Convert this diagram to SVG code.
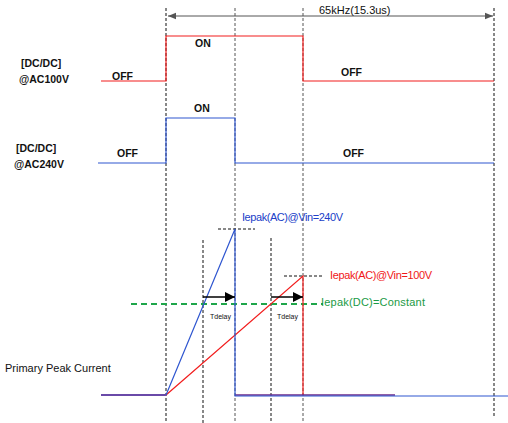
<svg xmlns="http://www.w3.org/2000/svg" width="508" height="423" viewBox="0 0 508 423">
<defs>
<style>
text{font-family:"Liberation Sans",Arial,sans-serif;font-size:11px;fill:#111}
.lbl{font-weight:bold;font-size:10.5px}
.guide{stroke:#111;stroke-width:1;stroke-dasharray:3 2;fill:none}
.guideg{stroke:#555;stroke-width:1;stroke-dasharray:3 2;fill:none}
.red{stroke:#f21d1d;stroke-width:1.2;fill:none}
.blue{stroke:#2f56d0;stroke-width:1.2;fill:none}
.tiny{font-size:7px}
</style>
<marker id="ah" viewBox="0 0 10 10" refX="10" refY="5" markerWidth="8" markerHeight="8" markerUnits="userSpaceOnUse" orient="auto-start-reverse"><path d="M0,1 L10,5 L0,9 z" fill="#555"/></marker>
<marker id="tri" viewBox="0 0 10 10" refX="10" refY="5" markerWidth="10" markerHeight="10" markerUnits="userSpaceOnUse" orient="auto"><path d="M0,0 L10,5 L0,10 z" fill="#000"/></marker>
</defs>
<g id="guides">
<line class="guide" x1="166" y1="8" x2="166" y2="423"/>
<line class="guideg" x1="235" y1="8" x2="235" y2="423"/>
<line class="guideg" x1="303" y1="8" x2="303" y2="423"/>
<line class="guide" x1="494" y1="8" x2="494" y2="418"/>
<line class="guide" x1="203" y1="240" x2="203" y2="423"/>
<line class="guide" x1="271" y1="238" x2="271" y2="423"/>
<line class="guide" x1="218" y1="229" x2="255" y2="229"/>
<line class="guide" x1="284" y1="276" x2="323" y2="276"/>
</g>
<g id="period">
<line x1="168" y1="16" x2="493" y2="16" stroke="#555" stroke-width="1" marker-start="url(#ah)" marker-end="url(#ah)"/>
<text x="319" y="14">65kHz(15.3us)</text>
</g>
<g id="dcdc100">
<polyline class="red" points="101,81 166,81 166,36 303,36 303,81 494,81"/>
<text class="lbl" x="21" y="67">[DC/DC]</text>
<text class="lbl" x="19" y="83">@AC100V</text>
<text class="lbl" x="112" y="80">OFF</text>
<text class="lbl" x="195" y="47">ON</text>
<text class="lbl" x="341" y="76">OFF</text>
</g>
<g id="dcdc240">
<polyline class="blue" points="98,163 166,163 166,118 235,118 235,163 494,163"/>
<text class="lbl" x="16" y="152">[DC/DC]</text>
<text class="lbl" x="14" y="168">@AC240V</text>
<text class="lbl" x="117" y="157">OFF</text>
<text class="lbl" x="194" y="112">ON</text>
<text class="lbl" x="343" y="157">OFF</text>
</g>
<g id="current">
<line x1="131" y1="304" x2="323" y2="304" stroke="#1fa64a" stroke-width="2" stroke-dasharray="6 4"/>
<line x1="101" y1="395" x2="166" y2="395" stroke="#6a4aa8" stroke-width="2"/>
<polyline class="red" points="166,395 303,276 303,395"/>
<line x1="235" y1="395" x2="395" y2="395" stroke="#6a2a8a" stroke-width="1.5"/>
<polyline class="blue" points="166,395 235,229 235,396 508,396" stroke-width="1.5"/>
<text x="5" y="372">Primary Peak Current</text>
<text x="242" y="221" style="fill:#2040c8" textLength="101">Iepak(AC)@Vin=240V</text>
<text x="330" y="279" style="fill:#f01818" textLength="102">Iepak(AC)@Vin=100V</text>
<text x="321" y="306" style="fill:#1a9a45" textLength="104">Iepak(DC)=Constant</text>
</g>
<g id="tdelay">
<line x1="203" y1="297" x2="235" y2="297" stroke="#000" stroke-width="1.5" marker-end="url(#tri)"/>
<line x1="271" y1="297" x2="303" y2="297" stroke="#000" stroke-width="1.5" marker-end="url(#tri)"/>
<text class="tiny" x="210" y="319">Tdelay</text>
<text class="tiny" x="277" y="319">Tdelay</text>
</g>
</svg>
